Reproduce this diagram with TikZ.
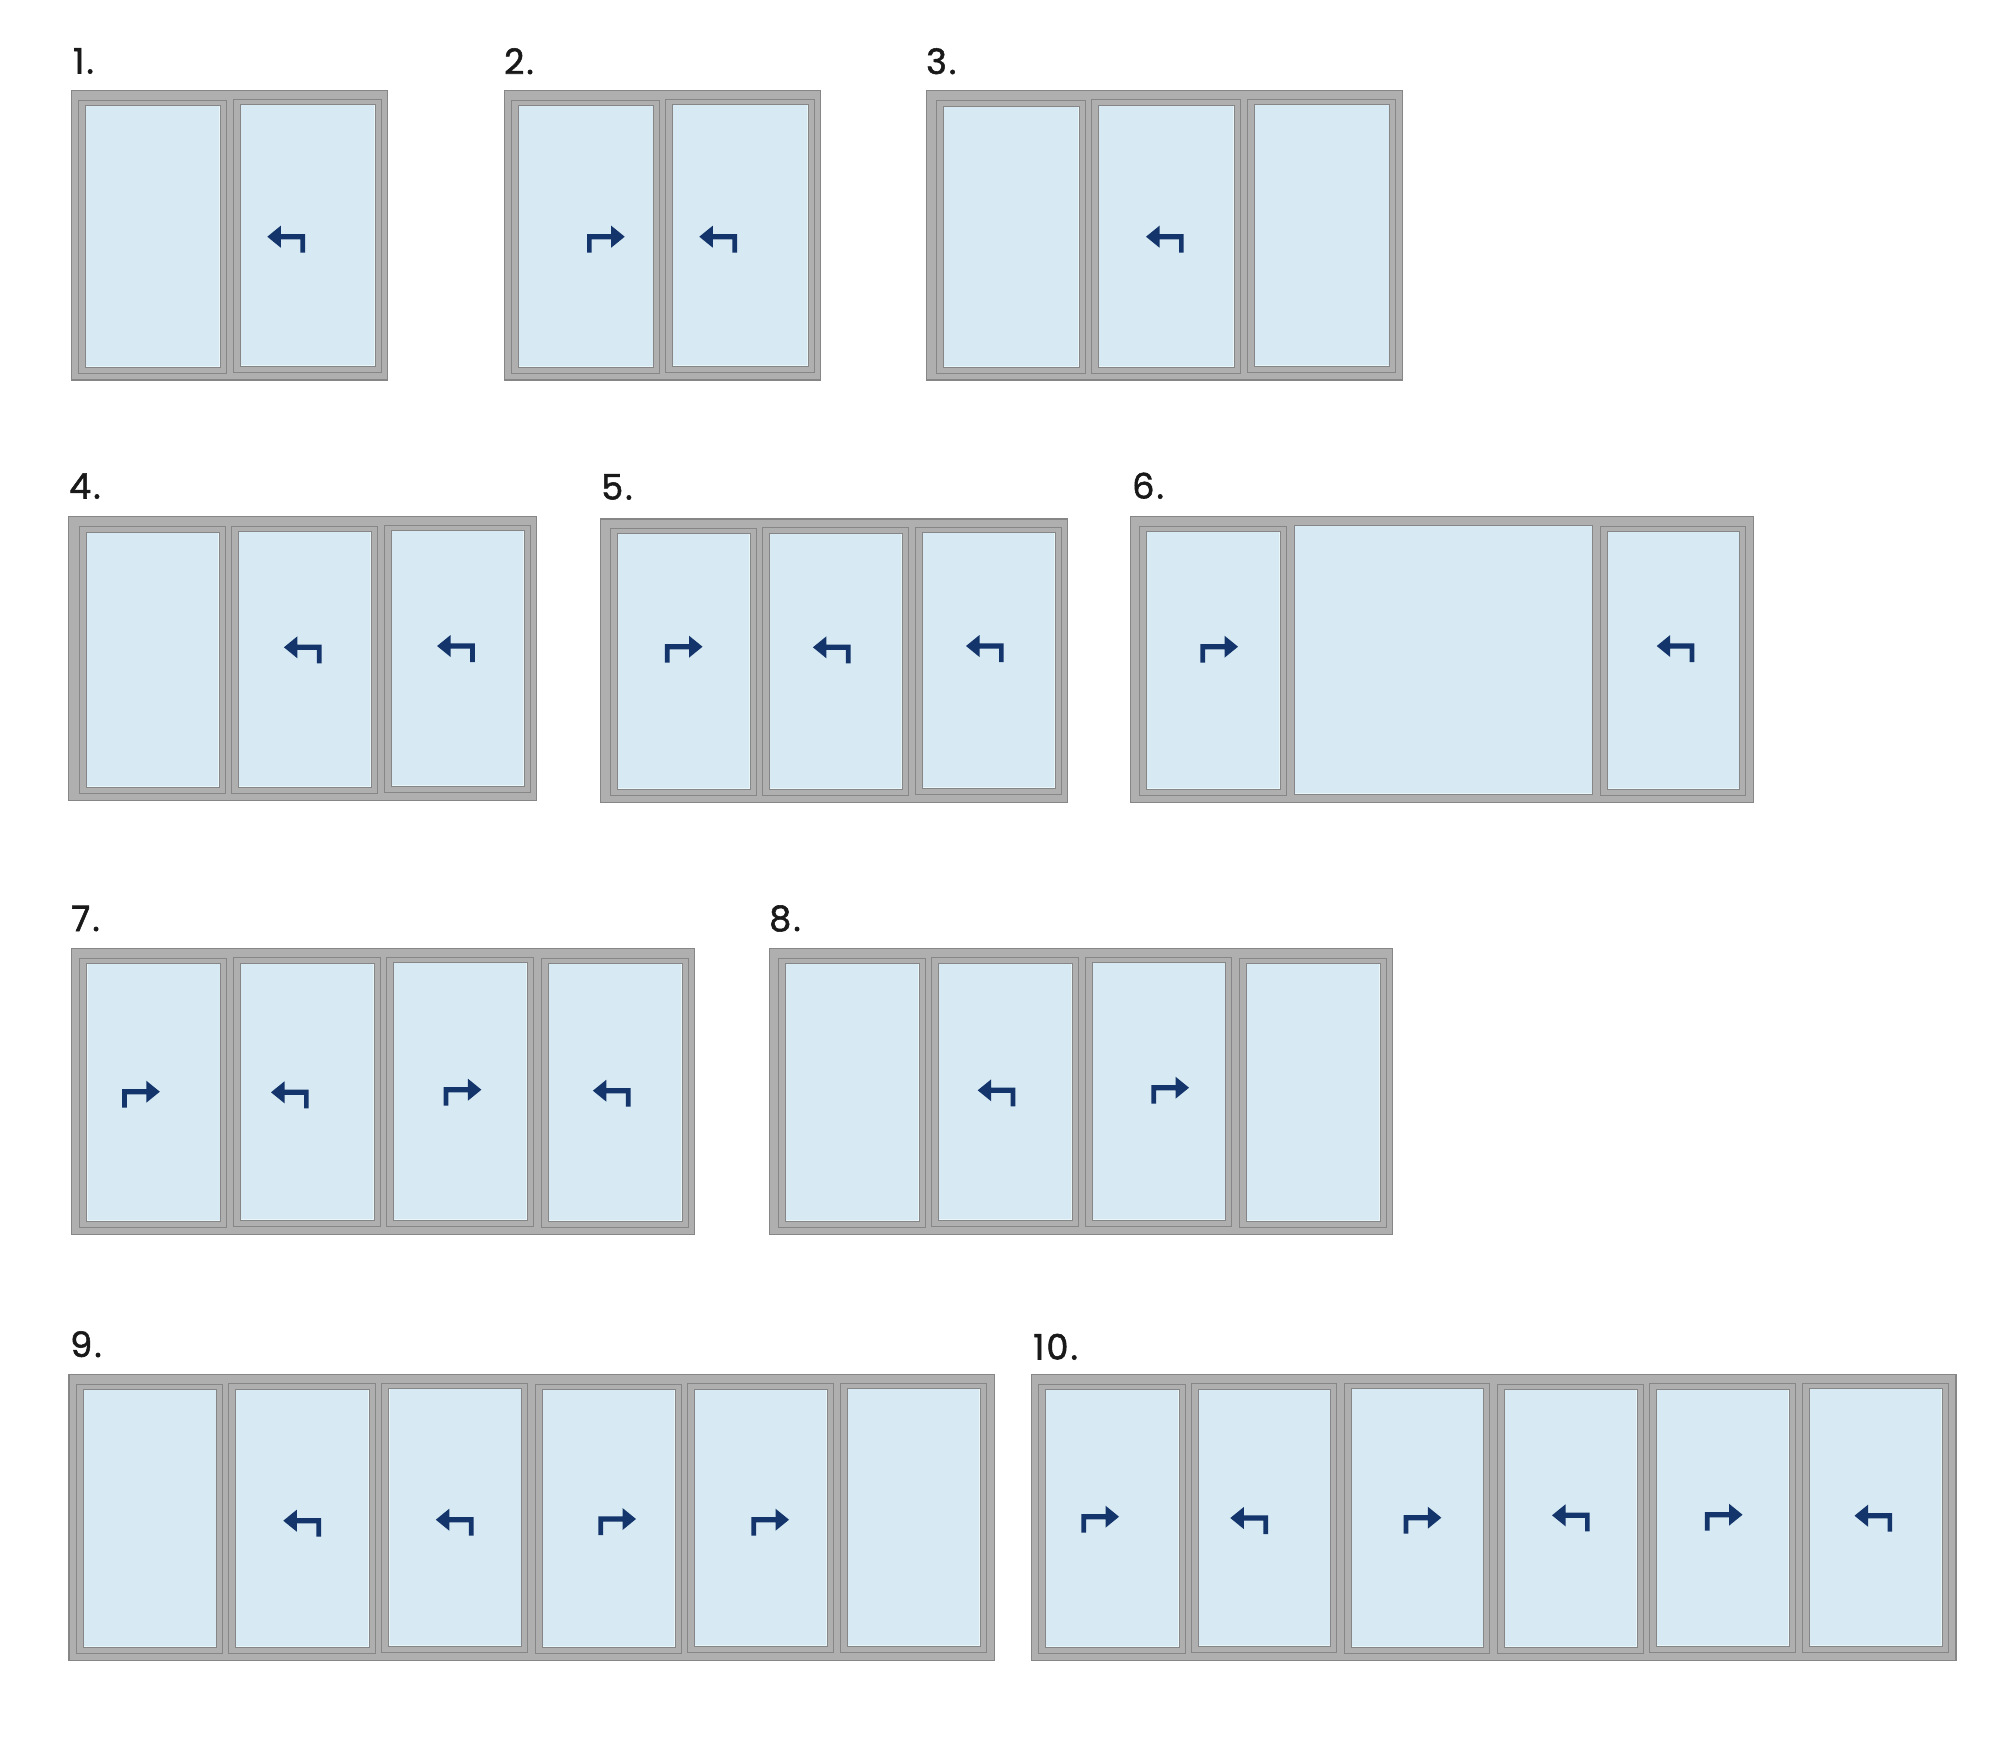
\documentclass[tikz,border=0pt]{standalone}
\usepackage{fontspec}
\newfontfamily\numfont[FakeBold=1.6, LetterSpace=6]{Poppins}
\definecolor{framegrey}{HTML}{AFAFAF}
\definecolor{edgegrey}{HTML}{868686}
\definecolor{glassblue}{HTML}{D7E9F2}
\definecolor{glassedge}{HTML}{E9F6FA}
\definecolor{openerblue}{HTML}{14356B}
\tikzset{
  framebox/.style={fill=framegrey, draw=edgegrey, line width=1.1pt},
  sashbox/.style={fill=framegrey, draw=edgegrey, line width=1pt},
  glassbox/.style={fill=glassedge, draw=edgegrey, line width=1pt},
  glasspane/.style={fill=glassblue},
  openerfill/.style={fill=openerblue},
  numlabel/.style={anchor=base west, inner sep=0pt, font=\numfont\fontsize{35}{35}\selectfont, text=black!90}
}
% sash: x left, x right, y top, y bottom
\newcommand{\sash}[4]{
  \draw[sashbox] (#1,#3) rectangle (#2,#4);
  \draw[glassbox] ({#1+7},{#3+5.5}) rectangle ({#2-6},{#4-6});
  \fill[glasspane] ({#1+7.6},{#3+6.1}) rectangle ({#2-7},{#4-7.4});
}
% opener: tip x, tip y, direction (1 right, -1 left)
\newcommand{\opener}[3]{
  \fill[openerfill, shift={(#1,#2)}, xscale=#3] (0,0) -- (-13.5,-11) -- (-13.5,-2.6) -- (-37.7,-2.6) -- (-37.7,16) -- (-33,16) -- (-33,2.6) -- (-13.5,2.6) -- (-13.5,11) -- cycle;
}
\begin{document}
\begin{tikzpicture}[x=1pt, y=-1pt]
    \useasboundingbox (0,0) rectangle (2000,1740);

    % Window 1
    \node[numlabel] (lab1) at (73,73.5) {1.};
    \draw[framebox] (71.3,90.3) rectangle (387.7,380);
    \sash{78.3}{226.3}{100.3}{373.3}
    \sash{233}{381}{99.3}{372.3}
    \opener{267.3}{236.7}{-1}

    % Window 2
    \node[numlabel] (lab2) at (504,74) {2.};
    \draw[framebox] (504.3,90.3) rectangle (820.7,380);
    \sash{511.7}{659.7}{100.3}{373.3}
    \sash{665.7}{814}{99.3}{372.3}
    \opener{624.7}{236.7}{1}
    \opener{699.3}{236.7}{-1}

    % Window 3
    \node[numlabel] (lab3) at (926,74) {3.};
    \draw[framebox] (926.3,90.3) rectangle (1402.7,380);
    \sash{936.3}{1085}{100.7}{373.3}
    \sash{1091.7}{1240}{99.7}{373}
    \sash{1247.3}{1395.7}{99.3}{372.3}
    \opener{1146}{236.7}{-1}

    % Window 4
    \node[numlabel] (lab4) at (69,498.5) {4.};
    \draw[framebox] (68.9,516.7) rectangle (536.8,800.3);
    \sash{79.3}{225}{526.7}{793.3}
    \sash{231.4}{377.1}{526}{793}
    \sash{384.3}{530}{525.3}{792.7}
    \opener{283.9}{647.3}{-1}
    \opener{437.1}{646}{-1}

    % Window 5
    \node[numlabel] (lab5) at (601,499.5) {5.};
    \draw[framebox] (600.4,519) rectangle (1067.5,802.3);
    \sash{610}{756}{528.3}{795}
    \sash{762.5}{908.2}{527.7}{795}
    \sash{915.4}{1061}{527}{794.3}
    \opener{702.5}{646.7}{1}
    \opener{812.9}{647.3}{-1}
    \opener{966}{646}{-1}

    % Window 6, fixed middle pane
    \node[numlabel] (lab6) at (1132,498.5) {6.};
    \draw[framebox] (1130.3,516.3) rectangle (1753.3,802.3);
    \sash{1139.3}{1286}{526.3}{795.3}
    \draw[glassbox] (1294,525.7) rectangle (1592.3,794);
    \fill[glasspane] (1294.6,526.3) rectangle (1591.7,792.8);
    \sash{1600}{1745.7}{526.3}{795.3}
    \opener{1238}{646.7}{1}
    \opener{1656.7}{646}{-1}

    % Window 7
    \node[numlabel] (lab7) at (71,931) {7.};
    \draw[framebox] (71.5,948.7) rectangle (694.8,1234.3);
    \sash{79.9}{226.8}{958.3}{1227.7}
    \sash{233.5}{380}{957.7}{1226.7}
    \sash{386.7}{533.2}{957.3}{1226.3}
    \sash{541.2}{688}{958.3}{1227}
    \opener{159.8}{1091.7}{1}
    \opener{271}{1092.3}{-1}
    \opener{481.4}{1089.7}{1}
    \opener{592.9}{1090.7}{-1}

    % Window 8
    \node[numlabel] (lab8) at (769,931) {8.};
    \draw[framebox] (769.4,948.7) rectangle (1392.7,1234.3);
    \sash{778.2}{925.1}{958.3}{1227.7}
    \sash{931.4}{1078.3}{957.7}{1226.7}
    \sash{1085}{1231.5}{957.3}{1226.3}
    \sash{1239}{1386}{958.3}{1227}
    \opener{977.7}{1090.3}{-1}
    \opener{1189}{1087.7}{1}

    % Window 9
    \node[numlabel] (lab9) at (70,1357) {9.};
    \draw[framebox] (69,1374.7) rectangle (994.3,1660.3);
    \sash{76.3}{222.7}{1384.3}{1653}
    \sash{228.8}{375.2}{1383.7}{1653}
    \sash{381.9}{527.7}{1383.3}{1652.7}
    \sash{535}{681.4}{1384.3}{1653}
    \sash{687.5}{833.2}{1383.7}{1652.7}
    \sash{840}{986.3}{1383.3}{1652.3}
    \opener{283.3}{1520.7}{-1}
    \opener{435.8}{1519.7}{-1}
    \opener{636}{1519}{1}
    \opener{789}{1519.7}{1}

    % Window 10
    \node[numlabel] (lab10) at (1033,1359.5) {10.};
    \draw[framebox] (1031.1,1374.7) rectangle (1956,1660.3);
    \sash{1038.6}{1185.2}{1384.3}{1653}
    \sash{1191.4}{1336.7}{1383.7}{1652.7}
    \sash{1344.2}{1489.5}{1383.3}{1653}
    \sash{1497}{1643}{1384.3}{1653}
    \sash{1649.7}{1795}{1383.7}{1652.7}
    \sash{1802.5}{1948}{1383.3}{1652.3}
    \opener{1119}{1516.7}{1}
    \opener{1230.3}{1518}{-1}
    \opener{1441.3}{1517.7}{1}
    \opener{1552}{1515.3}{-1}
    \opener{1742.5}{1514.7}{1}
    \opener{1854.5}{1515.7}{-1}

\end{tikzpicture}
\end{document}
